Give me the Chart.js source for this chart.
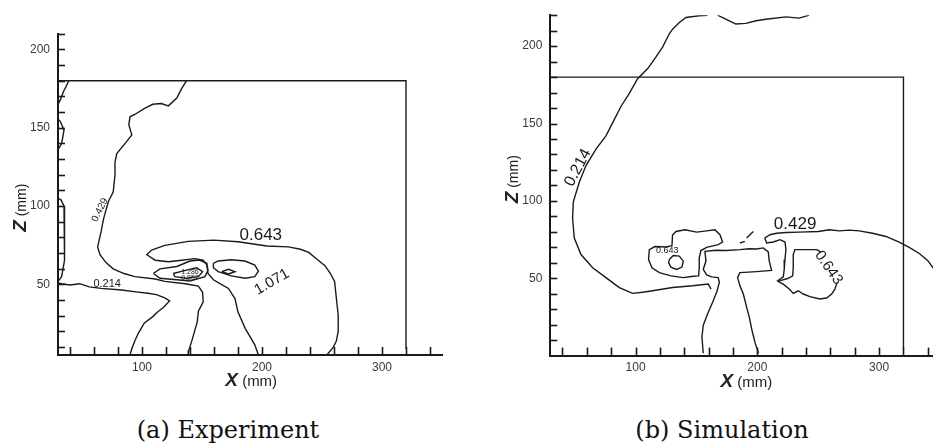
<!DOCTYPE html>
<html>
<head>
<meta charset="utf-8">
<script src="https://cdn.jsdelivr.net/npm/chart.js@4.4.1/dist/chart.umd.min.js"></script>
<style>
  html, body { margin: 0; padding: 0; overflow: hidden; background: #fff; }
  body { position: relative; width: 933px; height: 443px; }
  canvas { position: absolute; top: 0; }
  #expChart { left: 0; }
  #simChart { left: 466px; }
  .caption {
    position: absolute; top: 416px; width: 240px; text-align: center;
    font-family: "DejaVu Serif", serif; font-size: 24px; line-height: 28px; color: #111;
  }
</style>
</head>
<body>
<canvas id="expChart" width="466" height="400"></canvas>
<canvas id="simChart" width="480" height="400"></canvas>
<div class="caption" style="left:108px">(a) Experiment</div>
<div class="caption" style="left:602px">(b) Simulation</div>

<script>
/* ==============================
   TICK LABELS / MINOR TICKS
============================== */

const xTickLabels = [100, 200, 300];
const zTickLabels = [50, 100, 150, 200];
const xMinorTicks = [40, 60, 80, 100, 120, 140, 160, 180, 200, 220, 240, 260, 280, 300, 320, 340];
const zMinorTicks = [10, 20, 30, 40, 50, 60, 70, 80, 90, 100, 110, 120, 130, 140, 150, 160, 170, 180, 190, 200, 210, 220];

/* ==============================
   (a) EXPERIMENT CONTOURS  [x mm, z mm]
============================== */

const expBox = [[30,180],[320,180],[320,9]];

const expC429 = [[137,180],[133,175],[129,169],[122,164],[116,165.5],[109,165],[102.5,162.5],[94,158.5],[90,157],
  [89,152],[91.5,145.5],[87,141],[79,133.5],[77.5,128],[77.5,120],[76,109],[72,103],[68,92],[66,84],[63,74],
  [65,69],[70,64],[76,60],[85,57],[94,55],[111,53.5],[119,52],[136,50.5],[147,49],[150.5,45],[151,39],
  [147,33],[146,26],[141.5,14],[139,8],[138.5,5]];

const expC214 = [[30,51],[33,50.5],[40,49.7],[48,50.5],[56,48.5],[66,47.5],[83,46.5],[95,45.3],[105,44.4],
  [112,43.5],[119,41.5],[123,39.5],[118,35.5],[113,32.5],[109,29.5],[102,25.5],[97,19],[94,14],[91.5,9],[90,5]];

const expC643 = [[197,5],[194,11.5],[186,22],[180,32.5],[177.5,41],[172,47.5],[165,50.5],[159.5,53],[155,57],
  [154,62.5],[151,65.5],[144,66.5],[133,65.5],[122,64.5],[111,65.5],[104,69],[108,72],[119,75],[138.5,77.5],
  [160,78.3],[180,77.3],[204,74.6],[222,74],[232,72.5],[239,70.5],[246,66],[252.5,62],[257,57],[260.5,52],
  [262,41],[263.5,30.5],[263.5,20],[262,14],[259.5,10],[254,5]];

const expC1071 = [[159.5,63.5],[163.5,65],[174.5,65.8],[185.8,65],[194,62.4],[197,58.5],[194,55],[186,54],
  [174.5,55.5],[163.5,58.2],[159.5,60.7],[159.5,63.5]];

const expCore = [[166.5,58.2],[172,59.7],[177.5,58.2],[172,56.7],[166.5,58.2]];

const expLoopA = [[109.5,57],[115,60],[129,61.5],[140,65],[148,65.6],[154,63.5],[155,59],[152.5,55],[140,52.2],
  [129,53],[115,54],[109.5,57]];

const expLoopB = [[126,57],[137,59.2],[145.5,60.7],[150.5,58.2],[147,55],[137,54],[127.5,55],[126,57]];

const expEdgeTop = [[39,180],[36.5,176],[34.5,173],[32,168],[30,165]];
const expEdgeMid = [[30,155.5],[32,154],[35,148.5],[34,144],[33,140],[30,136]];
const expEdgeLow = [[30,105],[32.5,104],[35,100],[35.5,90],[35.8,82],[35.5,72],[35,65.5],[33,55],[30,52]];

/* ==============================
   (b) SIMULATION CONTOURS  [x mm, z mm]
============================== */

const simBox = [[30,180],[320,180],[320,4]];

const simC214 = [[159,220],[152,219.6],[141.4,218.5],[136,215.3],[130.4,211],[127.7,208],[122.2,199.4],
  [116.8,193],[110,185.5],[101.7,179],[95,169.6],[88,161],[79.8,148.3],[75.7,142],[67.5,133.4],[59.3,122.8],
  [53.8,112],[48.9,99.4],[48.3,88.7],[49.7,76],[55.2,65.3],[64.8,56.8],[75.7,50.4],[86.7,44],[97.6,40.2],
  [105.8,40.9],[114,41.9],[130.4,44],[146.9,45.1],[159.7,46.2],[162,43]];

const simTopRight = [[167.4,220],[177,216.4],[182.4,214.3],[190.6,214.7],[198.9,216.4],[207.1,217.4],
  [223.5,218.9],[234.4,218.1],[242.6,220]];

const simBlobL = [[130.4,78],[133.2,80.2],[140.6,81.3],[150.1,79.8],[158.4,80.6],[165.2,81.3],[169.3,78.1],
  [171.5,73.4],[167.9,71.7],[158.4,70],[153.7,67.9],[152.3,63.2],[152.3,56.8],[151.8,51.5],[147.4,51.3],
  [139.2,50.4],[129.1,51.5],[119.5,53.6],[113.5,56.8],[110.7,62.1],[111.3,68.5],[115.9,70.5],[125,70.2],
  [129.9,71],[130.4,78]];

const simRing = [[127.7,62.1],[131,64.7],[135.9,64.3],[139.2,61.1],[138.1,57.2],[133.7,55.7],[129.1,57.2],
  [127.2,60],[127.7,62.1]];

const simStem = [[155.6,1.5],[154.5,12],[155.6,19.6],[159.2,27],[163.3,34.5],[166.6,41],[168.8,47.2],
  [167.9,50.4],[162.5,50.9],[158.4,52.1],[155.6,55.7],[157.8,61.1],[157,67.4],[166,68.1],[174.8,67.9],
  [185.7,68.5],[193.4,69.1],[199.4,68.9],[204.9,69.6],[209,67],[209.8,61.1],[211.7,55.1],[199.4,54.3],
  [185.7,53.6],[183.8,50.4],[185.7,45.1],[188.5,39.8],[191.2,31.3],[193.4,24.9],[195.6,16.4],[198.3,7.9],
  [201,1.5]];

const simC429 = [[346,55],[339.8,61.5],[333,66],[324.7,70],[316.5,73.4],[305.6,77],[294.6,79.1],[283.7,80.6],
  [275.5,81.1],[267.3,80.6],[259.1,81.3],[250,80.2],[234.4,79.8],[223.5,79.6],[215.8,79.1],[210.4,78.1],
  [206.2,76],[207.6,72.8],[213.1,73.4],[218.6,74.9],[222.7,73.4],[223.5,68.5],[222.7,62.1],[222.1,55.7],
  [221.3,50.9],[216.6,48.3],[222.1,45.7],[226.2,43],[229.5,40.2],[233.6,41.9],[237.7,39.8],[243.2,38.1],
  [251.4,36.6],[256.9,37.2],[261,39.8],[263.7,43],[265.1,46.2]];

const simBlobR = [[252,67],[248.7,68.5],[230.9,68.5],[229.5,65.3],[229.5,56.8],[229,51.5],[224.9,49.8],[218,48.3]];

const simDashA = [[185.7,72.8],[189.8,73.8]];
const simDashB = [[191.2,76],[196.7,80.2]];

/* ==============================
   CONTOUR LEVEL LABELS
============================== */

const expLabels = [
  { text: "0.643", x: 199, z: 76, size: 17, rot: 0, base: "bottom" },
  { text: "1.071", x: 208.3, z: 51.6, size: 15, rot: -30, base: "middle" },
  { text: "0.429", x: 65, z: 97.5, size: 10, rot: -63, base: "middle" },
  { text: "0.214", x: 71, z: 47, size: 11, rot: 0, base: "bottom" },
  { text: "1.286", x: 140, z: 58, size: 7, rot: 0, base: "middle" },
  { text: "0.857", x: 140, z: 54, size: 7, rot: 0, base: "middle" }
];

const simLabels = [
  { text: "0.214", x: 58.5, z: 119, size: 16, rot: -62, base: "bottom" },
  { text: "0.429", x: 231, z: 79.5, size: 17, rot: 0, base: "bottom" },
  { text: "0.643", x: 258.5, z: 56.8, size: 15, rot: 55, base: "middle" },
  { text: "0.643", x: 126, z: 68, size: 9, rot: 0, base: "middle" }
];

/* ==============================
   DECORATION PLUGIN (INWARD TICKS, LABELS, TITLES)
============================== */

const FONT = '"Liberation Sans", Arial, sans-serif';
const INK = "#1a1a1a";

function drawParts(ctx, parts, cx, cy) {
    const widths = parts.map(p => { ctx.font = p.font; return ctx.measureText(p.text).width; });
    let start = cx - widths.reduce((a, b) => a + b, 0) / 2;
    parts.forEach((p, i) => {
        ctx.font = p.font;
        ctx.fillText(p.text, start, cy);
        start += widths[i];
    });
}

const decoPlugin = {
    id: "deco",
    afterDraw(chart, args, opts) {
        const ctx = chart.ctx;
        const area = chart.chartArea;
        const xs = chart.scales.x;
        const ys = chart.scales.y;
        ctx.save();
        ctx.strokeStyle = INK;
        ctx.lineWidth = 1.6;

        // inward ticks along the bottom axis
        xMinorTicks.forEach(v => {
            const px = Math.round(xs.getPixelForValue(v)) + 0.5;
            ctx.beginPath();
            ctx.moveTo(px, area.bottom);
            ctx.lineTo(px, area.bottom - 8);
            ctx.stroke();
        });

        // inward ticks along the left axis
        zMinorTicks.forEach(v => {
            if (v > ys.max) return;
            const py = Math.round(ys.getPixelForValue(v)) + 0.5;
            ctx.beginPath();
            ctx.moveTo(area.left, py);
            ctx.lineTo(area.left + 7, py);
            ctx.stroke();
        });

        // contour labels
        ctx.fillStyle = INK;
        opts.labels.forEach(l => {
            ctx.save();
            ctx.translate(xs.getPixelForValue(l.x), ys.getPixelForValue(l.z));
            ctx.rotate(l.rot * Math.PI / 180);
            ctx.font = `${l.size}px ${FONT}`;
            ctx.textAlign = "center";
            ctx.textBaseline = l.base;
            ctx.fillText(l.text, 0, 0);
            ctx.restore();
        });

        // axis titles
        ctx.fillStyle = "#222";
        ctx.textAlign = "left";
        ctx.textBaseline = "alphabetic";
        drawParts(ctx, [
            { text: "X", font: `italic bold 19px ${FONT}` },
            { text: " (mm)", font: `15px ${FONT}` }
        ], xs.getPixelForValue(opts.xTitleAt), area.bottom + 31);

        ctx.save();
        ctx.translate(area.left - 32, ys.getPixelForValue(opts.zTitleAt));
        ctx.rotate(-Math.PI / 2);
        drawParts(ctx, [
            { text: "Z", font: `italic bold 19px ${FONT}` },
            { text: " (mm)", font: `14px ${FONT}` }
        ], 0, 0);
        ctx.restore();

        ctx.restore();
    }
};

/* ==============================
   BUILD ONE PANEL
============================== */

const contour = pts => ({
    data: pts.map(([x, y]) => ({ x, y })),
    showLine: true,
    pointRadius: 0,
    borderColor: INK,
    borderWidth: 1.4,
    tension: 0
});

function makePanel(canvasId, lines, cfg) {
    return new Chart(document.getElementById(canvasId), {
        type: "scatter",
        data: { datasets: lines.map(contour) },
        options: {
            responsive: false,
            animation: false,
            devicePixelRatio: 1,
            layout: { padding: { top: cfg.padTop, right: cfg.padRight, left: 0, bottom: 0 } },
            plugins: {
                legend: { display: false },
                tooltip: { enabled: false },
                deco: {
                    labels: cfg.labels,
                    xTitleAt: 191,
                    zTitleAt: cfg.zTitleAt
                }
            },
            scales: {
                x: {
                    type: "linear", min: 30, max: 350,
                    afterBuildTicks: s => { s.ticks = xTickLabels.map(value => ({ value })); },
                    afterFit: s => { s.height = cfg.xAxisHeight; },
                    grid: { display: false, drawTicks: false },
                    border: { display: true, color: INK, width: 2 },
                    ticks: { padding: 5, color: "#3a3a3a", autoSkip: false, maxRotation: 0, font: { family: FONT, size: 12 } }
                },
                y: {
                    type: "linear", min: cfg.zMin, max: cfg.zMax,
                    afterBuildTicks: s => { s.ticks = zTickLabels.map(value => ({ value })); },
                    afterFit: s => { s.width = cfg.yAxisWidth; },
                    grid: { display: false, drawTicks: false },
                    border: { display: true, color: INK, width: 2 },
                    ticks: { padding: 8, color: "#3a3a3a", autoSkip: false, font: { family: FONT, size: 12 } }
                }
            }
        },
        plugins: [decoPlugin]
    });
}

/* ==============================
   DRAW BOTH PANELS
============================== */

makePanel("expChart",
    [expBox, expC429, expC214, expC643, expC1071, expCore, expLoopA, expLoopB, expEdgeTop, expEdgeMid, expEdgeLow],
    { zMin: 5, zMax: 210, padTop: 33.8, padRight: 24, xAxisHeight: 45, yAxisWidth: 58, zTitleAt: 99, labels: expLabels });

makePanel("simChart",
    [simBox, simC214, simTopRight, simBlobL, simRing, simStem, simC429, simBlobR, simDashA, simDashB],
    { zMin: 0, zMax: 220, padTop: 10.9, padRight: 6, xAxisHeight: 44.4, yAxisWidth: 84.3, zTitleAt: 114, labels: simLabels });
</script>
</body>
</html>
